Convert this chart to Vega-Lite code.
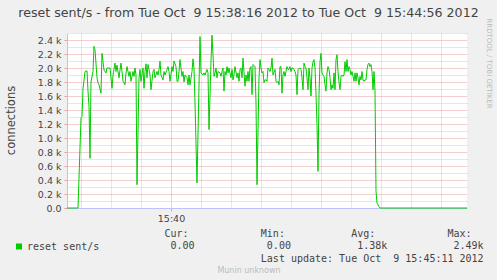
{
"$schema": "https://vega.github.io/schema/vega-lite/v6.json",
"width": 400, "height": 175,
"autosize": {"type": "none"},
"padding": {"left": 67, "top": 33, "right": 30, "bottom": 72},
"background": "#f0f0f0",
"view": {"fill": "white", "stroke": null},
"config": {"font": "DejaVu Sans"},
"title": {"text": "reset sent/s - from Tue Oct \u00a09 15:38:16 2012 to Tue Oct \u00a09 15:44:56 2012", "anchor": "middle", "frame": "group", "dx": -18.5, "dy": 14.5, "offset": 3, "baseline": "alphabetic", "font": "DejaVu Sans", "fontSize": 12.6, "fontWeight": "normal", "color": "#444444"},
"data": {"format": {"parse": {"t": "utc:'%H:%M:%S'"}}, "values": [
{"t":"15:38:16","v":0},{"t":"15:38:27","v":0},{"t":"15:38:30","v":1290},{"t":"15:38:31","v":1310},{"t":"15:38:32","v":1700},{"t":"15:38:34","v":1950},{"t":"15:38:36","v":1960},{"t":"15:38:37","v":1670},{"t":"15:38:38","v":1450},{"t":"15:38:39","v":710},{"t":"15:38:40","v":1800},{"t":"15:38:42","v":1950},{"t":"15:38:43","v":2310},{"t":"15:38:44","v":2260},{"t":"15:38:46","v":1860},{"t":"15:38:47","v":1790},{"t":"15:38:48","v":1760},{"t":"15:38:50","v":1640},{"t":"15:38:51","v":2210},{"t":"15:38:52","v":2090},{"t":"15:38:53","v":1970},{"t":"15:38:55","v":1930},{"t":"15:38:56","v":2000},{"t":"15:38:58","v":2000},{"t":"15:38:59","v":2000},
{"t":"15:39:01","v":1710},{"t":"15:39:02","v":1900},{"t":"15:39:04","v":2070},{"t":"15:39:05","v":1950},{"t":"15:39:06","v":2040},{"t":"15:39:08","v":1860},{"t":"15:39:09","v":1970},{"t":"15:39:10","v":2070},{"t":"15:39:11","v":1950},{"t":"15:39:12","v":1810},{"t":"15:39:14","v":1760},{"t":"15:39:15","v":1930},{"t":"15:39:16","v":2020},{"t":"15:39:18","v":1880},{"t":"15:39:19","v":1950},{"t":"15:39:20","v":1810},{"t":"15:39:22","v":1950},{"t":"15:39:23","v":1880},{"t":"15:39:24","v":2000},{"t":"15:39:25","v":1900},{"t":"15:39:26","v":333},{"t":"15:39:28","v":1860},{"t":"15:39:29","v":1980},{"t":"15:39:30","v":1810},{"t":"15:39:32","v":2000},{"t":"15:39:33","v":1710},{"t":"15:39:34","v":1950},{"t":"15:39:35","v":2060},{"t":"15:39:36","v":1860},{"t":"15:39:37","v":2050},{"t":"15:39:38","v":1980},{"t":"15:39:39","v":1900},{"t":"15:39:40","v":1690},{"t":"15:39:42","v":1950},{"t":"15:39:43","v":1980},{"t":"15:39:44","v":1860},{"t":"15:39:46","v":1950},{"t":"15:39:47","v":1900},{"t":"15:39:48","v":1980},{"t":"15:39:49","v":2100},{"t":"15:39:50","v":1900},{"t":"15:39:52","v":1830},{"t":"15:39:53","v":1950},{"t":"15:39:54","v":1900},{"t":"15:39:56","v":1980},{"t":"15:39:57","v":2020},{"t":"15:39:58","v":1950},{"t":"15:39:59","v":1810},
{"t":"15:40:01","v":2020},{"t":"15:40:02","v":1950},{"t":"15:40:03","v":2100},{"t":"15:40:05","v":2020},{"t":"15:40:06","v":1810},{"t":"15:40:07","v":1810},{"t":"15:40:08","v":1950},{"t":"15:40:09","v":2120},{"t":"15:40:11","v":1880},{"t":"15:40:12","v":1950},{"t":"15:40:13","v":1800},{"t":"15:40:14","v":1900},{"t":"15:40:16","v":1860},{"t":"15:40:17","v":1760},{"t":"15:40:18","v":1900},{"t":"15:40:19","v":1760},{"t":"15:40:21","v":1950},{"t":"15:40:22","v":2130},{"t":"15:40:23","v":2000},{"t":"15:40:24","v":1500},{"t":"15:40:26","v":357},{"t":"15:40:29","v":2450},{"t":"15:40:30","v":1930},{"t":"15:40:32","v":1900},{"t":"15:40:33","v":1930},{"t":"15:40:34","v":1900},{"t":"15:40:36","v":1980},{"t":"15:40:37","v":1930},{"t":"15:40:38","v":1120},{"t":"15:40:40","v":2100},{"t":"15:40:41","v":2470},{"t":"15:40:42","v":2190},{"t":"15:40:43","v":1880},{"t":"15:40:44","v":1930},{"t":"15:40:45","v":2000},{"t":"15:40:46","v":1860},{"t":"15:40:47","v":1950},{"t":"15:40:49","v":1930},{"t":"15:40:50","v":1880},{"t":"15:40:51","v":1950},{"t":"15:40:52","v":2000},{"t":"15:40:53","v":1670},{"t":"15:40:54","v":1950},{"t":"15:40:55","v":1900},{"t":"15:40:56","v":2020},{"t":"15:40:57","v":1930},{"t":"15:40:58","v":2000},
{"t":"15:41:00","v":1860},{"t":"15:41:01","v":1980},{"t":"15:41:02","v":1830},{"t":"15:41:03","v":1900},{"t":"15:41:04","v":2020},{"t":"15:41:06","v":1860},{"t":"15:41:07","v":1930},{"t":"15:41:08","v":1810},{"t":"15:41:09","v":1980},{"t":"15:41:10","v":2000},{"t":"15:41:11","v":1860},{"t":"15:41:12","v":2140},{"t":"15:41:14","v":1740},{"t":"15:41:15","v":1900},{"t":"15:41:16","v":1810},{"t":"15:41:17","v":1950},{"t":"15:41:18","v":1810},{"t":"15:41:19","v":2000},{"t":"15:41:20","v":2020},{"t":"15:41:21","v":1620},{"t":"15:41:22","v":2050},{"t":"15:41:24","v":2020},{"t":"15:41:25","v":1500},{"t":"15:41:26","v":333},{"t":"15:41:28","v":1860},{"t":"15:41:29","v":2120},{"t":"15:41:30","v":2000},{"t":"15:41:31","v":1930},{"t":"15:41:32","v":1950},{"t":"15:41:33","v":1790},{"t":"15:41:34","v":1830},{"t":"15:41:35","v":1830},{"t":"15:41:36","v":1810},{"t":"15:41:37","v":2000},{"t":"15:41:38","v":1980},{"t":"15:41:39","v":1950},{"t":"15:41:40","v":2000},{"t":"15:41:41","v":2140},{"t":"15:41:42","v":1900},{"t":"15:41:44","v":1980},{"t":"15:41:45","v":1810},{"t":"15:41:46","v":1790},{"t":"15:41:47","v":1810},{"t":"15:41:48","v":1760},{"t":"15:41:49","v":2020},{"t":"15:41:50","v":2020},{"t":"15:41:51","v":1640},{"t":"15:41:52","v":1900},{"t":"15:41:53","v":1950},{"t":"15:41:54","v":1880},{"t":"15:41:55","v":1950},{"t":"15:41:56","v":2020},{"t":"15:41:57","v":1980},{"t":"15:41:58","v":1980},{"t":"15:41:59","v":2020},
{"t":"15:42:00","v":1950},{"t":"15:42:01","v":2000},{"t":"15:42:02","v":2000},{"t":"15:42:03","v":1980},{"t":"15:42:04","v":1950},{"t":"15:42:05","v":1900},{"t":"15:42:06","v":1620},{"t":"15:42:07","v":1980},{"t":"15:42:09","v":2000},{"t":"15:42:10","v":1980},{"t":"15:42:11","v":1860},{"t":"15:42:12","v":1690},{"t":"15:42:13","v":2070},{"t":"15:42:14","v":2020},{"t":"15:42:15","v":2000},{"t":"15:42:16","v":1860},{"t":"15:42:17","v":1690},{"t":"15:42:18","v":2000},{"t":"15:42:19","v":1860},{"t":"15:42:20","v":1600},{"t":"15:42:21","v":2000},{"t":"15:42:22","v":2090},{"t":"15:42:23","v":2120},{"t":"15:42:24","v":2000},{"t":"15:42:25","v":1620},{"t":"15:42:26","v":1190},{"t":"15:42:27","v":524},{"t":"15:42:28","v":1620},{"t":"15:42:29","v":2090},{"t":"15:42:30","v":2210},{"t":"15:42:31","v":1930},{"t":"15:42:32","v":1900},{"t":"15:42:33","v":1880},{"t":"15:42:34","v":1760},{"t":"15:42:35","v":1670},{"t":"15:42:36","v":1930},{"t":"15:42:37","v":2020},{"t":"15:42:38","v":1980},{"t":"15:42:39","v":1860},{"t":"15:42:40","v":1690},{"t":"15:42:41","v":1760},{"t":"15:42:42","v":1710},{"t":"15:42:43","v":1930},{"t":"15:42:44","v":1690},{"t":"15:42:45","v":2120},{"t":"15:42:46","v":2190},{"t":"15:42:47","v":1950},{"t":"15:42:48","v":1790},{"t":"15:42:49","v":1690},{"t":"15:42:50","v":1880},{"t":"15:42:51","v":1900},{"t":"15:42:52","v":1880},{"t":"15:42:53","v":1900},{"t":"15:42:54","v":2090},{"t":"15:42:55","v":1950},{"t":"15:42:56","v":2120},{"t":"15:42:57","v":1950},{"t":"15:42:58","v":2020},{"t":"15:42:59","v":1980},
{"t":"15:43:00","v":1900},{"t":"15:43:01","v":1950},{"t":"15:43:02","v":1880},{"t":"15:43:03","v":1810},{"t":"15:43:04","v":1930},{"t":"15:43:05","v":1810},{"t":"15:43:06","v":1930},{"t":"15:43:07","v":1860},{"t":"15:43:08","v":1760},{"t":"15:43:09","v":1880},{"t":"15:43:10","v":1830},{"t":"15:43:11","v":1950},{"t":"15:43:12","v":1830},{"t":"15:43:13","v":1810},{"t":"15:43:14","v":1830},{"t":"15:43:15","v":1830},{"t":"15:43:16","v":1980},{"t":"15:43:17","v":2050},{"t":"15:43:18","v":2070},{"t":"15:43:19","v":2020},{"t":"15:43:20","v":2050},{"t":"15:43:21","v":1950},{"t":"15:43:22","v":1690},{"t":"15:43:23","v":1950},{"t":"15:43:24","v":1670},{"t":"15:43:25","v":240},{"t":"15:43:26","v":70},{"t":"15:43:28","v":20},{"t":"15:43:29","v":0},{"t":"15:44:56","v":0}
]},
"layer": [
{"mark": {"type": "line", "strokeWidth": 1, "interpolate": "linear"},
 "encoding": {
  "x": {"field": "t", "type": "temporal",
    "scale": {"type": "utc", "domain": [{"year":1900,"month":1,"date":1,"hours":15,"minutes":38,"seconds":16,"utc":true},{"year":1900,"month":1,"date":1,"hours":15,"minutes":44,"seconds":56,"utc":true}]},
    "axis": {"values": [{"year":1900,"month":1,"date":1,"hours":15,"minutes":40,"utc":true}],
      "labelExpr": "utcFormat(datum.value, '%H:%M')",
      "labelFont": "DejaVu Sans", "labelFontSize": 9.5, "labelColor": "#444444", "labelPadding": 2, "labelFlush": false,
      "tickSize": 3, "tickColor": "#e6a0a0", "grid": true, "gridColor": "#e6a0a0", "gridDash": [1,1], "gridOpacity": 1,
      "domainColor": "#c0c0ff", "domainWidth": 1,
      "title": ["Cur:\u00a0\u00a0\u00a0\u00a0\u00a0\u00a0\u00a0\u00a0\u00a0\u00a0\u00a0\u00a0Min:\u00a0\u00a0\u00a0\u00a0\u00a0\u00a0\u00a0\u00a0\u00a0\u00a0\u00a0Avg:\u00a0\u00a0\u00a0\u00a0\u00a0\u00a0\u00a0\u00a0\u00a0\u00a0\u00a0\u00a0Max:",
                "\u200b\u00a00.00\u00a0\u00a0\u00a0\u00a0\u00a0\u00a0\u00a0\u00a0\u00a0\u00a0\u00a0\u00a00.00\u00a0\u00a0\u00a0\u00a0\u00a0\u00a0\u00a0\u00a0\u00a0\u00a0\u00a01.38k\u00a0\u00a0\u00a0\u00a0\u00a0\u00a0\u00a0\u00a0\u00a0\u00a0\u00a02.49k",
                "\u200b\u00a0\u00a0\u00a0\u00a0\u00a0\u00a0\u00a0\u00a0\u00a0\u00a0\u00a0\u00a0\u00a0\u00a0\u00a0\u00a0Last\u00a0update:\u00a0Tue\u00a0Oct\u00a0\u00a09\u00a015:45:11\u00a02012"],
      "titleFont": "DejaVu Sans Mono", "titleFontSize": 10, "titleFontWeight": "normal", "titleColor": "#444444",
      "titleAlign": "left", "titleBaseline": "alphabetic", "titleX": 97, "titleY": 28.7, "titleLineHeight": 12.2}},
  "y": {"field": "v", "type": "quantitative", "scale": {"domain": [0, 2500], "nice": false},
    "axis": {"values": [0,200,400,600,800,1000,1200,1400,1600,1800,2000,2200,2400],
      "labelExpr": "datum.value == 0 ? '0.0' : format(datum.value / 1000, '.1f') + ' k'",
      "labelFont": "DejaVu Sans", "labelFontSize": 9.5, "labelColor": "#444444", "labelPadding": 3,
      "tickSize": 3, "tickColor": "#e6a0a0", "grid": true, "gridColor": "#e6a0a0", "gridDash": [1,1], "gridOpacity": 1,
      "domainColor": "#c0c0ff", "domainWidth": 1,
      "title": "connections", "titleFont": "DejaVu Sans", "titleFontSize": 11.5, "titleFontWeight": "normal", "titleColor": "#444444",
      "titleX": -56, "titleY": 87, "titleAngle": -90, "titleAlign": "center", "titleBaseline": "middle"}},
  "color": {"datum": "reset sent/s", "scale": {"range": ["#00cc00"]},
    "legend": {"orient": "none", "legendX": -53, "legendY": 208.5, "title": null, "padding": 0,
      "symbolType": "square", "symbolSize": 36, "symbolStrokeWidth": 0, "symbolFillColor": "#00cc00",
      "labelFont": "DejaVu Sans Mono", "labelFontSize": 10, "labelColor": "#444444", "labelOffset": 3,
      "encode": {"symbols": {"update": {"fill": {"value": "#00cc00"}, "stroke": {"value": "#00cc00"}, "strokeWidth": {"value": 0}, "shape": {"value": "square"}, "size": {"value": 36}}}}}}
 }},
{"mark": {"type": "line", "opacity": 0},
 "encoding": {
  "x": {"field": "t", "type": "temporal",
    "axis": {"orient": "bottom", "labels": false, "ticks": false, "domain": false, "grid": true, "gridColor": "#cccccc", "gridDash": [1,1], "gridOpacity": 1,
      "values": [
        {"year":1900,"month":1,"date":1,"hours":15,"minutes":38,"seconds":30,"utc":true},
        {"year":1900,"month":1,"date":1,"hours":15,"minutes":39,"seconds":0,"utc":true},
        {"year":1900,"month":1,"date":1,"hours":15,"minutes":39,"seconds":30,"utc":true},
        {"year":1900,"month":1,"date":1,"hours":15,"minutes":40,"seconds":30,"utc":true},
        {"year":1900,"month":1,"date":1,"hours":15,"minutes":41,"seconds":0,"utc":true},
        {"year":1900,"month":1,"date":1,"hours":15,"minutes":41,"seconds":30,"utc":true},
        {"year":1900,"month":1,"date":1,"hours":15,"minutes":42,"seconds":0,"utc":true},
        {"year":1900,"month":1,"date":1,"hours":15,"minutes":42,"seconds":30,"utc":true},
        {"year":1900,"month":1,"date":1,"hours":15,"minutes":43,"seconds":0,"utc":true},
        {"year":1900,"month":1,"date":1,"hours":15,"minutes":43,"seconds":30,"utc":true},
        {"year":1900,"month":1,"date":1,"hours":15,"minutes":44,"seconds":0,"utc":true},
        {"year":1900,"month":1,"date":1,"hours":15,"minutes":44,"seconds":30,"utc":true}],
      "title": "Munin unknown", "titleFont": "DejaVu Sans", "titleFontSize": 8, "titleFontWeight": "normal", "titleColor": "#bbbbbb",
      "titleX": 181.5, "titleY": 64, "titleAlign": "center", "titleBaseline": "alphabetic"}},
  "y": {"field": "v", "type": "quantitative",
    "axis": {"orient": "right", "labels": false, "ticks": false, "domain": false, "grid": true, "gridColor": "#cccccc", "gridDash": [1,1], "gridOpacity": 1,
      "values": [100,300,500,700,900,1100,1300,1500,1700,1900,2100,2300,2500],
      "title": "RRDTOOL / TOBI OETIKER", "titleFont": "DejaVu Sans", "titleFontSize": 7, "titleFontWeight": "normal", "titleColor": "#bbbbbb",
      "titleX": 21, "titleY": 30, "titleAngle": 90, "titleAlign": "center", "titleBaseline": "middle"}}
 }}
],
"resolve": {"axis": {"x": "independent", "y": "independent"}}
}
